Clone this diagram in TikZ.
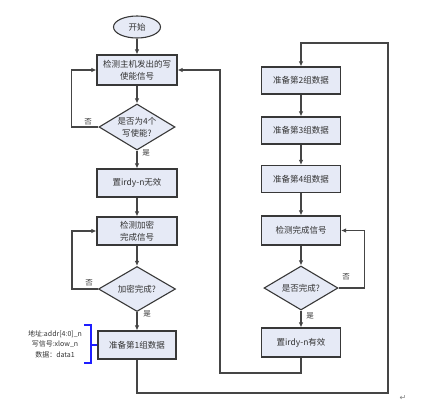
\documentclass[tikz,border=0pt]{standalone}
\usepackage{fontspec}
\setmainfont{Noto Sans CJK SC}
\newfontfamily\symfont{DejaVu Sans}
\usetikzlibrary{shapes.geometric,arrows.meta}
\definecolor{boxfill}{HTML}{E6EAF6}
\definecolor{boxline}{HTML}{383838}
\definecolor{conn}{HTML}{454545}
\definecolor{txt}{HTML}{333333}
\definecolor{brk}{HTML}{1E1EFF}
\begin{document}
\begin{tikzpicture}[x=1pt,y=-1pt,
  box/.style={draw=boxline, line width=1.1pt, fill=boxfill, rectangle, inner sep=1pt,
    align=center, text=txt, font=\fontsize{8.5}{12}\selectfont},
  dia/.style={draw=boxline, line width=1.1pt, fill=boxfill, diamond, inner sep=0pt,
    shape aspect=1.65, align=center, text=txt, font=\fontsize{8.5}{12}\selectfont},
  arr/.style={draw=conn, line width=1.1pt, -{Latex[length=5pt,width=4.5pt]}},
  lab/.style={text=txt, font=\fontsize{7.5}{9}\selectfont, inner sep=0pt},
  brkline/.style={draw=brk, line width=1.3pt}]
\useasboundingbox (0,0) rectangle (422,405);

% left column
\node[ellipse, draw=boxline, line width=1.1pt, fill=boxfill, minimum width=47pt,
  minimum height=22pt, inner sep=0pt, text=txt, font=\fontsize{8.5}{12}\selectfont]
  (start) at (137,27) {开始};
\node[box, minimum width=80pt, minimum height=30pt] (b1) at (137,70) {检测主机发出的写\\使能信号};
\node[dia, minimum width=76pt, minimum height=46pt] (d1) at (137,127) {是否为4个\\写使能?};
\node[box, minimum width=80pt, minimum height=28pt] (b2) at (137,183) {置irdy-n无效};
\node[box, minimum width=80pt, minimum height=28pt] (b3) at (137,231) {检测加密\\完成信号};
\node[dia, minimum width=77pt, minimum height=45pt] (d2) at (137,289) {加密完成?};
\node[box, minimum width=78pt, minimum height=28pt] (b4) at (137,345) {准备第1组数据};

% right column
\node[box, minimum width=79pt, minimum height=27pt] (b5) at (301,80.5) {准备第2组数据};
\node[box, minimum width=79pt, minimum height=27pt] (b6) at (301,130.5) {准备第3组数据};
\node[box, minimum width=79pt, minimum height=27pt] (b7) at (301,179) {准备第4组数据};
\node[box, minimum width=79pt, minimum height=29pt] (b8) at (301,230.5) {检测完成信号};
\node[dia, minimum width=74pt, minimum height=44pt] (d3) at (301,288) {是否完成?};
\node[box, minimum width=79pt, minimum height=29pt] (b9) at (301,342.5) {置irdy-n有效};

% annotation
\node[text=txt, font=\fontsize{7}{10.5}\selectfont, align=center, inner sep=0pt]
  (ann) at (55,344) {地址:addr[4:0]\_n\\写信号:xlow\_n\\数据：data1};
\draw[brkline] (84,325) -- (91,325) -- (91,363) -- (84,363);
\draw[brkline] (91,345) -- (b4.west);

% connectors
\draw[arr] (start) -- (b1);
\draw[arr] (b1) -- (d1);
\draw[arr] (d1.west) -- ++(-27,0) |- (b1.west);
\node[lab] (n1) at (88,122) {否};
\draw[arr] (d1) -- (b2);
\node[lab] (y1) at (146,153) {是};
\draw[arr] (b2) -- (b3);
\draw[arr] (b3) -- (d2);
\draw[arr] (d2.west) -- ++(-26,0) |- (b3.west);
\node[lab] (n2) at (89,283) {否};
\draw[arr] (d2) -- (b4);
\node[lab] (y2) at (147,314) {是};

\coordinate (c1) at (388,393);
\coordinate (c2) at (388,43);
\draw[arr] (b4.south) |- (c1) -- (c2) -| (b5.north);

\draw[arr] (b5) -- (b6);
\draw[arr] (b6) -- (b7);
\draw[arr] (b7) -- (b8);
\draw[arr] (b8) -- (d3);
\draw[arr] (d3.east) -- ++(26,0) |- (b8.east);
\node[lab] (n3) at (346,277) {否};
\draw[arr] (d3) -- (b9);
\node[lab] (y3) at (310,316) {是};

\coordinate (c3) at (220,373);
\draw[arr] (b9.south) |- (c3) |- (b1.east);

\node[text=gray, font=\symfont\fontsize{8}{8}\selectfont, inner sep=0pt] (ret) at (403,398) {↵};
\end{tikzpicture}
\end{document}
